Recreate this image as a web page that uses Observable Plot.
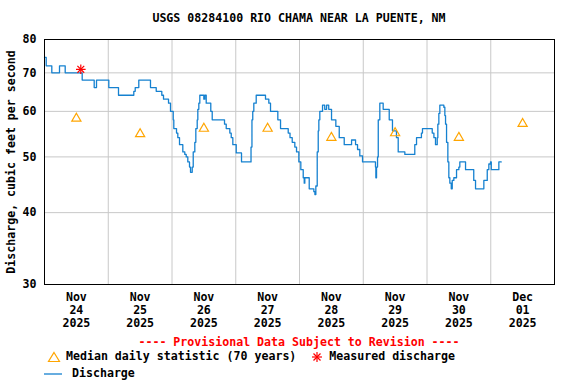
<!DOCTYPE html>
<html>
<head>
<meta charset="utf-8">
<script src="https://cdn.jsdelivr.net/npm/d3@7"></script>
<script src="https://cdn.jsdelivr.net/npm/@observablehq/plot@0.6"></script>
<style>
  body { margin: 0; background: #fff; }
  #wrap { position: relative; width: 576px; height: 384px; overflow: hidden;
          font-family: "DejaVu Sans Mono", monospace; font-weight: bold; font-size: 11.6px; color: #000; }
  #chart { position: absolute; left: 0; top: 0; }
  .abs { position: absolute; white-space: pre; line-height: 1; }
  #title { top: 13px; left: 0; width: 598px; text-align: center; }
  #prov { top: 337px; left: 0; width: 598px; text-align: center; color: #ff0000; }
  #leg1 { top: 351px; left: 47px; }
  #leg2 { top: 368px; left: 44px; }
  .item { display: inline-flex; align-items: center; }
  .item svg { margin-right: 5px; }
</style>
</head>
<body>
<div id="wrap">
  <div id="chart"></div>
  <div id="title" class="abs">USGS 08284100 RIO CHAMA NEAR LA PUENTE, NM</div>
  <div id="prov" class="abs">---- Provisional Data Subject to Revision ----</div>
  <div id="leg1" class="abs"><span class="item"><svg width="14" height="12"><polygon points="7,1.5 12.5,10.5 1.5,10.5" fill="none" stroke="#ffa500" stroke-width="1.2"/></svg>Median daily statistic (70 years)</span>  <span class="item"><svg width="14" height="12"><g stroke="#ff0000" stroke-width="1.2"><line x1="7" y1="1" x2="7" y2="11"/><line x1="2" y1="6" x2="12" y2="6"/><line x1="3.5" y1="2.5" x2="10.5" y2="9.5"/><line x1="10.5" y1="2.5" x2="3.5" y2="9.5"/></g></svg>Measured discharge</span></div>
  <div id="leg2" class="abs"><span class="item"><svg width="23" height="12"><line x1="0" y1="6" x2="18" y2="6" stroke="#1581d0" stroke-width="1.3"/></svg>Discharge</span></div>
</div>
<script>
// ---- data ----
const startDay = "2025-11-24T00:00:00Z";
const endDay = "2025-12-02T00:00:00Z";
const dayLabels = ["2025-11-24","2025-11-25","2025-11-26","2025-11-27","2025-11-28","2025-11-29","2025-11-30","2025-12-01"];
const yTicks = [30, 40, 50, 60, 70, 80];
const yGrid = [40, 50, 60, 70];

// median daily statistic (70 years), one per day (plotted at noon)
const medianCfs = [58.3, 54.8, 56.0, 56.0, 54.0, 55.0, 54.0, 57.1];

// measured discharge
const measuredTime = "2025-11-24T13:40:00Z";
const measuredCfs = 71;

// discharge: hours since Nov 24 00:00 and cfs
const dischargeHours = [0, 0.64, 2.75, 5.65, 7.79, 14.19, 18.71, 19.58, 24.21, 27.86, 33.62, 34.15, 35.5, 39.9, 42.06, 44.16, 44.8, 46.69, 47.44, 48.46, 48.68, 49.7, 50.19, 50.83, 52.07, 52.82, 53.35, 53.95, 54.59, 54.97, 55.61, 55.99, 56.59, 56.97, 57.49, 57.72, 58.1, 58.47, 59.98, 60.35, 60.88, 62.6, 63.14, 67.77, 68.41, 69.77, 70.3, 70.9, 72.18, 74.17, 77.75, 78.1, 78.4, 78.8, 79.7, 83.2, 84.45, 85.09, 87.84, 88.86, 91.75, 92.43, 93.26, 94.24, 94.88, 95.75, 96.5, 97.4, 97.78, 98.0, 99.66, 101.4, 101.8, 102.15, 102.67, 103.05, 103.28, 103.65, 104.67, 105.5, 106.2, 107.0, 108.06, 109.68, 110.96, 112.84, 115.6, 117.1, 117.85, 118.7, 119.73, 124.6, 124.75, 125.0, 125.38, 125.65, 126.24, 127.5, 129.78, 131.0, 132.5, 133.16, 135.66, 139.4, 140.06, 141.9, 142.3, 145.97, 146.6, 147.2, 147.85, 148.08, 148.46, 148.83, 150.34, 150.72, 150.98, 151.36, 151.85, 152.22, 152.6, 153.13, 153.5, 154.1, 155.12, 155.99, 156.36, 158.51, 161.6, 162.27, 165.4, 166.68, 167.28, 167.9, 168.2, 171.05, 171.95];
const dischargeCfs = [74.5, 72, 70, 72, 70, 68, 66, 68, 66, 64, 65, 66, 68, 66, 65, 64, 63, 62, 60, 58, 56, 55, 54, 52.5, 51, 50.5, 50, 49, 48, 47, 48, 51, 53, 56, 58, 60.5, 62, 64, 63, 64, 62, 60, 58, 57, 56, 55, 54, 52.5, 50.8, 49, 52, 58, 60, 62, 64, 63, 62, 60, 58, 56, 55, 54, 53, 52, 51, 49, 47.5, 46, 45, 46, 44, 43.5, 43, 44.5, 51, 55.5, 58, 60, 61.5, 60.5, 61.5, 60.5, 58, 56.5, 54, 52.5, 53.5, 52.5, 51.5, 50.2, 49, 48, 46, 48, 50, 58, 62, 60.5, 58, 55.5, 54, 51, 50.5, 52.5, 54, 55, 56, 55, 54, 52.5, 54, 57, 59.5, 61.5, 61, 59, 57, 53, 49, 46, 45, 44, 45.5, 46, 47.5, 48, 49, 47.5, 45.5, 44, 45.5, 47.5, 48.6, 49, 47.5, 49, 49];

// ---- build tables ----
const t0 = new Date(startDay).getTime();
const discharge = dischargeHours.map((h, i) => ({date: new Date(t0 + h * 3600e3), cfs: dischargeCfs[i]}));
const noon = dayLabels.map(d => new Date(d + "T12:00:00Z"));
const medians = noon.map((d, i) => ({date: d, cfs: medianCfs[i]}));
const midnights = dayLabels.slice(1).map(d => new Date(d + "T00:00:00Z"));
const measured = [{date: new Date(measuredTime), cfs: measuredCfs}];
const fmt = d3.utcFormat("%b\n%d\n%Y");

const font = "DejaVu Sans Mono, monospace";
const chart = Plot.plot({
  width: 576,
  height: 336,
  marginTop: 39,
  marginBottom: 52,
  marginLeft: 44,
  marginRight: 22,
  style: {fontFamily: font, fontSize: "11.6px", fontWeight: "bold", color: "#000", background: "transparent"},
  x: {type: "utc", domain: [new Date(startDay), new Date(endDay)]},
  y: {type: "log", domain: [30, 80]},
  marks: [
    Plot.gridX(midnights, {stroke: "#c8c8c8", strokeOpacity: 1, strokeWidth: 1}),
    Plot.gridY(yGrid, {stroke: "#c8c8c8", strokeOpacity: 1, strokeWidth: 1}),
    Plot.axisX(noon, {tickSize: 0, tickPadding: 7, tickFormat: fmt, lineHeight: 1.13, fontSize: 11.6, fontWeight: "bold", label: null}),
    Plot.axisY(yTicks, {tickSize: 0, tickPadding: 8, tickFormat: d => String(d), fontSize: 11.6, fontWeight: "bold",
      label: "Discharge, cubic feet per second", labelAnchor: "center", labelArrow: "none", labelOffset: 38}),
    Plot.line(discharge, {x: "date", y: "cfs", curve: "step-after", stroke: "#1581d0", strokeWidth: 1.3}),
    Plot.dot(medians, {x: "date", y: "cfs", symbol: "triangle", r: 3.4, stroke: "#ffa500", fill: "none", strokeWidth: 1.2}),
    Plot.dot(measured, {x: "date", y: "cfs", symbol: "plus", r: 3.2, stroke: "#ff0000", strokeWidth: 1.2}),
    Plot.dot(measured, {x: "date", y: "cfs", symbol: "times", r: 3.2, stroke: "#ff0000", strokeWidth: 1.2}),
    Plot.frame({stroke: "#000", strokeWidth: 1})
  ]
});
document.getElementById("chart").appendChild(chart);
</script>
</body>
</html>
